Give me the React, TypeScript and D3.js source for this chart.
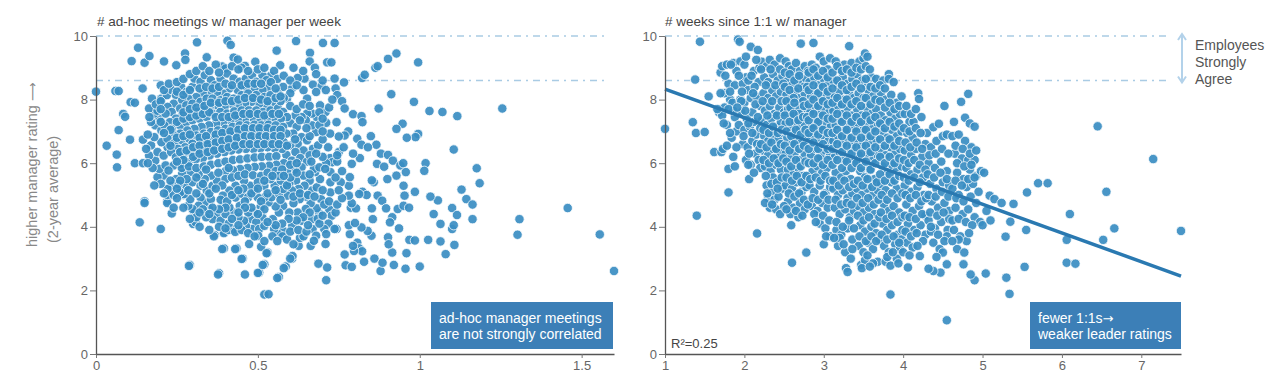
import React, { useEffect, useRef } from "react";
import * as d3 from "d3";

// ---------- data ----------
const adhocTicks = [0, 0.5, 1, 1.5];
const weeksTicks = [1, 2, 3, 4, 5, 6, 7];
const ratingTicks = [0, 2, 4, 6, 8, 10];
const agreeBand = [8.6, 10];
const fitLine: [number, number][] = [[1, 8.33], [7.5, 2.45]];
const rSquared = "R²=0.25";

const adhocOuter: [number, number][] = [
  [0,8.25],[0.033,6.55],[0.06,8.27],[0.07,8.27],[0.064,6.27],[0.065,5.87],[0.07,7.04],[0.084,7.55],[0.09,7.46],[0.13,9.63],[0.11,9.21],[0.15,9.16],[0.165,9.37],[0.135,4.14],[0.15,4.8],[0.2,3.93],[0.21,9.2],[0.144,8.35],[0.107,7.92],[0.12,7.9],[0.105,6.74],[0.145,6.74],[0.12,6.0],[0.145,6.0],[0.2,8.45],[0.22,4.8],[0.234,4.42],[0.29,2.8],[0.38,2.54],[0.395,3.32],[0.367,3.74],[0.397,3.84],[0.425,3.93],[0.434,3.32],[0.453,3.0],[0.46,2.5],[0.473,3.46],[0.504,2.56],[0.52,1.87],[0.533,1.88],[0.52,2.82],[0.53,3.19],[0.565,2.42],[0.586,2.75],[0.606,3.0],[0.607,3.08],[0.626,3.4],[0.663,3.4],[0.687,2.84],[0.714,2.72],[0.711,2.32],[0.709,3.46],[0.743,3.93],[0.771,2.79],[0.79,2.74],[0.828,2.9],[0.86,3.0],[0.879,2.61],[0.885,2.87],[0.92,2.8],[0.956,2.68],[1.0,2.75],[1.08,3.14],[1.107,3.43],[1.026,3.59],[1.064,3.54],[1.1,3.93],[1.105,4.05],[1.064,4.09],[1.043,4.4],[1.056,4.83],[1.033,4.95],[1.1,4.59],[1.115,4.37],[1.129,5.17],[1.144,4.87],[1.163,4.7],[1.163,4.24],[1.176,5.84],[1.185,5.37],[1.105,6.43],[1.018,6.0],[1.014,5.76],[1.03,7.64],[1.07,7.61],[1.116,7.48],[1.255,7.72],[1.308,4.24],[1.302,3.75],[1.457,4.59],[1.556,3.76],[1.6,2.61],[0.995,9.17],[0.928,9.45],[0.902,9.28],[0.863,9.0],[0.87,9.05],[0.912,8.17],[0.873,7.72],[0.982,7.93],[0.995,6.92],[0.987,6.82],[0.947,7.24],[0.928,7.08],[0.96,6.8],[0.822,8.68],[0.83,8.78],[0.766,8.54],[0.737,8.66],[0.714,9.17],[0.727,9.17],[0.701,9.78],[0.737,9.78],[0.661,9.47],[0.618,9.84],[0.558,9.54],[0.569,9.08],[0.539,8.74],[0.492,9.19],[0.406,9.85],[0.416,9.72],[0.312,9.8],[0.275,9.45],[0.276,9.25],[0.248,9.08],[0.342,9.33],[0.425,9.32],[0.438,9.26],[0.46,9.06],[0.45,9.0],[0.39,9.04],[0.4,8.98],[0.66,9.2],[0.676,9.0],[0.67,8.47],[0.697,8.43],[0.74,8.35],[0.745,8.14],[0.76,7.95],[0.794,7.54],[0.82,7.48],[0.823,7.29],[0.779,7.0],[0.768,6.87],[0.75,6.84],[0.807,6.77],[0.82,6.58],[0.849,6.85],[0.866,6.58],[0.84,6.5],[0.88,6.3],[0.868,5.98],[0.89,5.89],[0.902,6.26],[0.917,6.08],[0.94,5.93],[0.949,6.0],[0.957,5.72],[0.95,5.29],[0.928,5.61],[0.9,5.5],[0.858,5.4],[0.852,5.46],[0.823,5.1],[0.836,5.0],[0.87,4.98],[0.884,4.82],[0.896,4.58],[0.932,4.56],[0.915,4.3],[0.908,4.14],[0.936,3.95],[0.902,3.67],[0.968,3.59],[0.985,3.57],[0.985,5.1],[0.953,4.98],[0.95,4.66],[0.967,4.6],[0.915,3.19],[0.959,3.17],[0.904,3.45],[0.852,4.58],[0.855,4.24],[0.851,3.72],[0.839,3.87],[0.82,3.98],[0.807,3.5],[0.813,3.32],[0.822,3.23],[0.797,3.24],[0.794,3.4],[0.784,3.77],[0.781,4.05],[0.8,4.12],[0.768,3.13],[0.787,4.6],[0.803,4.58],[0.79,4.74],[0.781,4.98],[0.813,5.03],[0.781,5.29],[0.784,5.56],[0.756,5.4],[0.79,5.98],[0.815,6.16],[0.794,6.3],[0.75,6.35],[0.723,6.16],[0.73,6.03],[0.745,6.05],[0.717,6.5],[0.723,6.93],[0.743,7.29],[0.709,7.61],[0.768,7.72],[0.711,7.27],[0.692,7.82],[0.68,8.24],[0.652,8.03],[0.641,8.3],[0.644,8.66],[0.623,8.68],[0.605,8.35],[0.59,8.03],[0.578,8.4],[0.562,8.19],
  [0.15,4.75],[0.22,4.75],[0.22,5.0],[0.24,5.0],[0.27,5.0],[0.287,2.77],[0.3,4.09],[0.3,4.5],[0.364,3.7],[0.377,2.5],[0.39,3.3],[0.395,3.8],[0.41,3.9],[0.43,3.84],[0.43,3.3],[0.45,2.99],[0.5,2.55],[0.51,3.37],[0.515,2.8],[0.527,3.17],[0.56,2.39],[0.58,2.7],[0.6,3.0],[0.63,3.65]
];

const adhocCore: [number, number][] = [
  [0.724,5.4],[0.724,5.08],[0.724,5.72],[0.711,6.0],[0.72,4.56],[0.728,4.35],[0.74,4.45],[0.718,4.1],[0.737,3.93],[0.705,3.93],[0.711,3.77],[0.689,4.43],[0.682,4.58],[0.695,4.87],[0.663,4.74],[0.667,5.14],[0.682,5.24],[0.692,5.5],[0.677,5.72],[0.66,5.45],[0.673,5.82],[0.69,5.87],[0.708,5.82],[0.67,6.45],[0.686,6.56],[0.68,6.98],[0.667,7.19],[0.682,7.45],[0.667,7.56],[0.652,7.56],[0.648,7.35],[0.635,7.45],[0.616,7.5],[0.6,7.26],[0.62,7.14],[0.609,6.93],[0.635,6.82],[0.652,6.72],[0.623,6.61],[0.6,6.56],[0.641,6.4],[0.616,6.35],[0.588,6.26],[0.605,6.08],[0.631,6.16],[0.652,6.05],[0.635,5.87],[0.613,5.8],[0.59,5.72],[0.641,5.61],[0.618,5.45],[0.597,5.35],[0.644,5.29],[0.626,5.19],[0.605,5.14],[0.59,4.98],[0.648,4.95],[0.629,4.87],[0.61,4.74],[0.648,4.56],[0.623,4.45],[0.597,4.45],[0.578,4.66],[0.635,4.19],[0.606,4.03],[0.667,4.24],[0.669,3.93],[0.68,3.72],[0.641,3.7],[0.673,3.56],[0.578,3.87],[0.563,3.77],[0.576,3.7],[0.55,3.93],[0.546,4.24],[0.565,4.45],[0.555,4.64],[0.533,4.77],[0.542,4.93],[0.52,4.92],[0.565,5.04],[0.578,5.19],[0.552,5.29],[0.571,5.45],[0.539,5.5],[0.52,5.29],[0.499,4.93],[0.489,5.14],[0.508,4.61],[0.489,4.45],[0.514,4.29],[0.476,4.24],[0.495,4.14],[0.482,3.93],[0.463,4.03],[0.504,3.93],[0.52,4.03],[0.501,3.72],[0.47,4.45],[0.457,4.19],[0.444,4.66],[0.425,4.45],[0.412,4.61],[0.431,4.92],[0.45,5.04],[0.47,4.93],[0.476,5.29],[0.457,5.45],[0.431,5.29],[0.412,5.14],[0.392,4.98],[0.392,4.66],[0.372,4.4],[0.36,4.24],[0.385,4.19],[0.349,4.56],[0.336,4.77],[0.355,4.87],[0.323,4.92],[0.317,4.66],[0.304,4.45],[0.298,4.56],[0.308,4.14],[0.285,4.66],[0.291,4.87],[0.272,5.03],[0.26,5.08],[0.279,5.29],[0.298,5.4],[0.323,5.29],[0.342,5.14],[0.36,5.29],[0.374,5.45],[0.355,5.61],[0.336,5.5],[0.317,5.66],[0.291,5.72],[0.266,5.66],[0.247,5.5],[0.234,5.29],[0.221,5.19],[0.209,5.61],[0.19,5.56],[0.196,5.82],[0.215,5.93],[0.183,6.08],[0.164,6.24],[0.17,6.56],[0.19,6.35],[0.209,6.24],[0.221,6.5],[0.202,6.66],[0.18,6.82],[0.183,7.19],[0.202,7.03],[0.196,7.4],[0.18,7.56],[0.164,7.72],[0.173,8.03],[0.202,8.03],[0.219,8.14],[0.234,8.3],[0.247,8.14],[0.263,8.4],[0.279,8.24],[0.298,8.4],[0.304,8.66],[0.323,8.56],[0.336,8.77],[0.355,8.61],[0.367,8.45],[0.385,8.66],[0.405,8.82],[0.425,8.66],[0.444,8.56],[0.463,8.66],[0.482,8.77],[0.495,8.56],[0.514,8.77],[0.527,8.61],[0.533,8.4],[0.514,8.3],[0.489,8.35],[0.463,8.4],[0.438,8.3],[0.412,8.35],[0.392,8.19],[0.374,8.24],[0.349,8.24],[0.33,8.19],[0.31,8.08],[0.285,8.03],[0.266,7.98],[0.24,7.87],[0.221,7.77],[0.234,7.61],[0.215,7.56],[0.26,7.72],[0.279,7.82],[0.298,7.87],[0.323,7.93],[0.342,8.03],[0.36,8.03],[0.385,7.98],[0.405,8.08],[0.425,8.03],[0.45,8.14],[0.47,8.19],[0.495,8.14],[0.52,8.08],[0.539,8.14],[0.546,7.93],[0.527,7.82],[0.504,7.87],[0.48,7.93],[0.46,7.87],[0.438,7.82],[0.418,7.87],[0.397,7.77],[0.374,7.82],[0.351,7.77],[0.33,7.66],[0.308,7.61],[0.288,7.56],[0.266,7.5],[0.247,7.4],[0.228,7.29],[0.211,7.19],[0.234,7.08],[0.26,7.19],[0.279,7.29],[0.298,7.35],[0.32,7.4],[0.342,7.45],[0.36,7.56],[0.384,7.61],[0.405,7.56],[0.427,7.63],[0.45,7.66],[0.472,7.66],[0.495,7.66],[0.516,7.61],[0.539,7.66],[0.562,7.72],[0.578,7.61],[0.59,7.45],[0.571,7.4],[0.549,7.45],[0.527,7.4],[0.504,7.4],[0.482,7.45],[0.46,7.4],[0.438,7.4],[0.415,7.35],[0.393,7.29],[0.371,7.24],[0.349,7.19],[0.326,7.14],[0.304,7.08],[0.282,7.03],[0.26,6.93],[0.24,6.87],[0.221,6.77],[0.244,6.66],[0.266,6.72],[0.288,6.77],[0.31,6.87],[0.333,6.93],[0.355,6.98],[0.377,7.03],[0.4,7.08],[0.422,7.14],[0.444,7.19],[0.466,7.19],[0.489,7.21],[0.511,7.19],[0.533,7.21],[0.555,7.19],[0.578,7.14],[0.588,6.93],[0.565,6.98],[0.542,6.98],[0.52,6.98],[0.499,6.98],[0.476,6.96],[0.453,6.96],[0.431,6.93],[0.409,6.87],[0.387,6.82],[0.364,6.77],[0.342,6.72],[0.32,6.66],[0.298,6.61],[0.275,6.5],[0.253,6.45],[0.232,6.35],[0.247,6.19],[0.27,6.26],[0.291,6.35],[0.313,6.4],[0.336,6.45],[0.359,6.5],[0.38,6.56],[0.402,6.64],[0.425,6.69],[0.448,6.72],[0.47,6.72],[0.491,6.75],[0.514,6.72],[0.537,6.75],[0.559,6.72],[0.58,6.66],[0.575,6.45],[0.552,6.47],[0.53,6.5],[0.508,6.47],[0.486,6.45],[0.463,6.45],[0.44,6.43],[0.418,6.4],[0.397,6.35],[0.374,6.3],[0.351,6.24],[0.33,6.16],[0.308,6.12],[0.285,6.03],[0.262,5.98],[0.24,5.93],[0.224,5.77],
  [0.265,5.85],[0.287,5.9],[0.31,5.85],[0.333,5.9],[0.355,5.95],[0.378,6.0],[0.4,6.05],[0.423,6.1],[0.445,6.12],[0.468,6.15],[0.49,6.18],[0.512,6.2],[0.535,6.2],[0.557,6.22],[0.58,6.0],[0.557,5.95],[0.535,5.92],[0.512,5.9],[0.49,5.88],[0.468,5.85],[0.445,5.82],[0.423,5.78],[0.4,5.75],[0.378,5.7],[0.4,5.5],[0.42,5.55],[0.44,5.6],[0.46,5.65],[0.485,5.62],[0.51,5.6],[0.53,5.7],[0.555,5.75],[0.575,5.8],[0.5,5.4],[0.52,5.45],[0.455,5.2],[0.39,5.3],[0.41,5.85],
  [0.34,4.3],[0.32,4.0],[0.35,3.9],[0.41,4.1],[0.44,4.3],[0.45,3.9],[0.4,4.4],[0.27,4.6],[0.25,4.9],[0.24,4.6]
];

const adhocFill: [number, number][] = [
  [0.255,5.35],[0.285,5.15],[0.31,5.05],[0.33,5.35],[0.35,5.05],[0.37,5.2],[0.385,4.85],[0.405,4.8],[0.42,5.0],[0.44,5.15],[0.46,4.8],[0.48,5.05],[0.5,5.2],[0.51,4.8],[0.53,5.05],[0.555,5.15],[0.57,4.85],[0.59,5.3],[0.61,4.95],[0.63,5.05],[0.655,5.0],[0.675,4.95],[0.7,5.15],[0.705,4.7],[0.685,4.25],[0.66,4.45],[0.64,4.3],[0.62,4.2],[0.595,4.25],[0.575,4.1],[0.555,4.05],[0.53,4.15],[0.52,4.55],[0.5,4.4],[0.48,4.6],[0.46,4.6],[0.44,4.45],[0.42,4.25],[0.4,4.6],[0.38,4.55],[0.36,4.6],[0.33,4.55],[0.31,4.3],[0.29,4.25],[0.32,4.45],[0.35,4.4],[0.38,4.0],[0.4,3.95],[0.44,4.05],[0.47,3.8],[0.49,3.7],[0.52,3.55],[0.545,3.7],[0.56,3.55],[0.59,3.6],[0.61,3.45],[0.6,3.85],[0.625,3.9],[0.65,3.85],[0.655,4.05],[0.69,4.1],[0.7,4.35],[0.72,4.8],[0.745,4.7],[0.76,4.9],[0.75,5.15],[0.74,5.55],[0.76,5.75],[0.745,6.25],[0.765,6.5],[0.7,6.2],[0.7,6.75],[0.66,6.85],[0.66,6.25],[0.665,6.05],[0.68,6.3],[0.69,7.2],[0.7,7.0],[0.65,7.1],[0.63,7.35],[0.615,6.75],[0.6,5.95],[0.62,6.0],[0.66,5.65],[0.6,5.55],[0.62,5.7],[0.565,5.6],[0.545,5.6],[0.58,5.6],[0.34,5.8],[0.31,5.55],[0.28,5.5],[0.26,5.45],[0.25,5.2],[0.23,5.45],[0.2,5.35],[0.21,5.05],[0.18,5.3],[0.175,5.85],[0.16,6.0],[0.155,6.45],[0.16,6.9],[0.17,7.3],[0.165,7.45],[0.19,7.65],[0.185,7.85],[0.2,7.95],[0.21,8.3],[0.225,8.5],[0.25,8.55],[0.27,8.65],[0.29,8.8],[0.31,8.9],[0.33,9.05],[0.35,8.9],[0.37,9.1],[0.38,8.85],[0.42,9.05],[0.44,8.95],[0.47,8.9],[0.5,8.95],[0.52,9.0],[0.55,8.9],[0.56,8.65],[0.58,8.75],[0.6,8.6],[0.62,8.45],[0.6,8.2],[0.58,8.05],[0.57,7.95],[0.6,7.8],[0.62,7.7],[0.64,7.85],[0.66,7.8],[0.69,7.6],[0.7,7.4],[0.72,7.75],[0.73,8.0],[0.71,8.3],[0.7,8.6],[0.68,8.8],[0.64,8.9],[0.61,9.0],
  [0.23,7.05],[0.25,7.3],[0.27,7.4],[0.29,7.45],[0.31,7.5],[0.33,7.55],[0.35,7.6],[0.37,7.45],[0.39,7.45],[0.41,7.45],[0.43,7.5],[0.455,7.55],[0.475,7.55],[0.5,7.55],[0.52,7.5],[0.545,7.55],[0.565,7.55],[0.25,6.8],[0.27,6.85],[0.29,6.9],[0.32,6.8],[0.34,6.85],[0.37,6.9],[0.39,6.95],[0.415,7.0],[0.44,7.05],[0.46,7.1],[0.485,7.1],[0.505,7.1],[0.53,7.1],[0.55,7.05],[0.57,7.05],[0.26,6.35],[0.28,6.4],[0.3,6.5],[0.32,6.55],[0.345,6.6],[0.37,6.65],[0.39,6.7],[0.41,6.75],[0.435,6.8],[0.46,6.85],[0.48,6.85],[0.505,6.85],[0.525,6.85],[0.55,6.85],[0.57,6.85],[0.27,6.1],[0.3,6.2],[0.32,6.3],[0.345,6.35],[0.365,6.4],[0.39,6.45],[0.41,6.5],[0.43,6.55],[0.455,6.6],[0.475,6.6],[0.5,6.6],[0.52,6.6],[0.545,6.6],[0.565,6.6],[0.59,6.55],[0.27,7.6],[0.29,7.7],[0.31,7.75],[0.335,7.8],[0.355,7.9],[0.38,7.9],[0.4,7.95],[0.42,7.95],[0.44,8.0],[0.46,8.05],[0.485,8.05],[0.51,8.0],[0.53,7.95],[0.555,8.05],[0.57,8.1],[0.25,8.25],[0.27,8.15],[0.29,8.3],[0.32,8.35],[0.34,8.4],[0.36,8.35],[0.38,8.4],[0.4,8.5],[0.42,8.45],[0.45,8.45],[0.47,8.5],[0.49,8.5],[0.51,8.5],[0.54,8.55],[0.555,8.35],[0.25,6.05],[0.23,6.55],[0.21,6.95],[0.2,7.3],[0.2,7.7]
];

const weeksPoints: [number, number][] = [
  [1.0,7.08],[1.35,7.29],[1.39,6.95],[1.5,6.98],[1.38,8.63],[1.44,9.82],[1.4,4.35],[1.55,8.1],
  [1.62,6.35],[1.71,6.35],[1.73,6.45],[1.8,5.82],[1.8,5.08],[1.68,7.6],[1.72,7.5],[1.75,7.75],[1.7,8.85],[1.72,9.05],[1.78,9.1],[1.8,8.5],[1.82,8.0],[1.85,7.9],[1.78,7.2],[1.88,7.45],[1.86,9.15],[1.9,8.9],[1.84,6.8],[1.9,7.0],[1.75,8.2],[1.88,8.45],[1.66,7.7],
  [1.92,9.89],[1.94,9.82],[1.95,9.2],[2.0,9.1],[1.98,8.5],[2.02,8.7],[2.05,8.3],[1.95,8.0],[2.0,7.9],[2.08,8.05],[1.96,7.6],[2.03,7.4],[2.1,7.6],[1.93,7.2],[2.0,7.05],[2.07,7.15],[2.12,7.3],[1.98,6.6],[2.04,6.5],[2.1,6.7],[2.15,6.9],[2.02,6.1],[2.08,5.95],[2.06,5.5],[2.14,6.3],[2.18,6.1],[2.08,9.66],[2.17,9.56],[2.12,8.9],[2.18,8.55],[2.15,8.1],[2.2,7.8],[2.2,7.1],[2.16,6.6],[2.2,5.85],[2.16,3.79],[2.13,8.4],[2.05,8.6],[2.19,9.0],
  [2.22,9.19],[2.28,9.05],[2.32,9.25],[2.38,9.1],[2.45,9.3],[2.25,8.7],[2.3,8.55],[2.36,8.8],[2.42,8.6],[2.48,8.75],[2.24,8.2],[2.3,8.05],[2.35,8.3],[2.4,8.1],[2.46,8.25],[2.26,7.65],[2.32,7.8],[2.38,7.55],[2.44,7.75],[2.5,7.6],[2.22,7.35],[2.28,7.2],[2.34,7.4],[2.4,7.15],[2.46,7.3],[2.25,6.85],[2.3,6.7],[2.37,6.9],[2.43,6.75],[2.49,6.95],[2.23,6.4],[2.3,6.25],[2.36,6.45],[2.42,6.2],[2.48,6.4],[2.26,5.9],[2.33,5.75],[2.4,5.95],[2.46,5.8],[2.28,5.3],[2.35,5.1],[2.3,4.9],[2.38,4.85],[2.32,4.6],[2.4,4.55],[2.45,4.4],[2.48,5.2],[2.44,5.45],[2.36,5.55],
  [2.52,9.2],[2.56,9.05],[2.6,8.95],[2.65,9.15],[2.7,8.9],[2.71,9.76],[2.76,9.05],[2.55,8.6],[2.6,8.45],[2.66,8.7],[2.72,8.5],[2.78,8.65],[2.53,8.15],[2.58,8.0],[2.64,8.25],[2.7,8.05],[2.76,8.2],[2.55,7.7],[2.6,7.5],[2.67,7.75],[2.73,7.55],[2.79,7.7],[2.52,7.25],[2.58,7.05],[2.64,7.3],[2.7,7.1],[2.76,7.25],[2.54,6.8],[2.6,6.6],[2.66,6.85],[2.72,6.65],[2.78,6.8],[2.52,6.3],[2.58,6.15],[2.64,6.35],[2.7,6.1],[2.76,6.3],[2.55,5.8],[2.62,5.65],[2.68,5.85],[2.74,5.6],[2.52,5.3],[2.6,5.2],[2.66,5.4],[2.72,5.1],[2.78,5.25],[2.55,4.8],[2.62,4.6],[2.7,4.75],[2.76,4.55],[2.59,4.05],[2.6,2.87],[2.78,3.19],[2.58,4.4],[2.68,4.3],
  [2.87,9.78],[2.85,9.1],[2.9,9.0],[2.95,9.35],[3.0,9.2],[3.05,8.95],[3.08,9.3],[2.82,8.55],[2.88,8.7],[2.94,8.45],[3.0,8.65],[3.06,8.5],[2.84,8.1],[2.9,8.25],[2.96,8.0],[3.02,8.2],[3.08,8.05],[2.83,7.6],[2.89,7.8],[2.95,7.55],[3.01,7.75],[3.07,7.6],[2.85,7.15],[2.91,7.35],[2.97,7.1],[3.03,7.3],[3.09,7.15],[2.82,6.7],[2.88,6.9],[2.94,6.65],[3.0,6.85],[3.06,6.7],[2.84,6.25],[2.9,6.45],[2.96,6.2],[3.02,6.4],[3.08,6.25],[2.86,5.75],[2.92,5.9],[2.98,5.7],[3.04,5.85],[2.82,5.3],[2.88,5.1],[2.95,5.3],[3.02,5.05],[3.08,5.25],[2.85,4.65],[2.92,4.5],[2.98,4.75],[3.05,4.6],[2.95,4.1],[3.02,3.95],[3.0,3.45],[3.08,3.7],
  [3.32,9.68],[3.15,9.2],[3.2,8.95],[3.26,9.1],[3.35,9.15],[3.12,8.6],[3.18,8.45],[3.24,8.7],[3.3,8.5],[3.36,8.65],[3.14,8.1],[3.2,8.25],[3.26,8.0],[3.32,8.2],[3.38,8.05],[3.12,7.65],[3.18,7.8],[3.24,7.55],[3.3,7.75],[3.36,7.5],[3.15,7.2],[3.21,7.35],[3.27,7.05],[3.33,7.25],[3.39,7.1],[3.12,6.7],[3.18,6.85],[3.24,6.6],[3.3,6.8],[3.36,6.55],[3.14,6.2],[3.2,6.35],[3.26,6.1],[3.32,6.3],[3.38,6.05],[3.15,5.7],[3.22,5.55],[3.28,5.75],[3.34,5.5],[3.12,5.2],[3.18,5.0],[3.24,5.15],[3.3,4.9],[3.36,5.05],[3.14,4.6],[3.2,4.4],[3.27,4.55],[3.33,4.3],[3.38,4.5],[3.16,3.9],[3.22,3.75],[3.3,3.95],[3.36,3.6],[3.18,3.4],[3.27,3.2],[3.34,3.0],[3.28,2.7],[3.3,2.58],[3.2,3.65],
  [3.45,9.2],[3.5,9.3],[3.52,9.45],[3.55,9.35],[3.42,8.8],[3.48,8.6],[3.54,8.4],[3.6,8.7],[3.66,8.65],[3.44,8.2],[3.5,8.05],[3.56,8.3],[3.62,8.1],[3.42,7.7],[3.48,7.5],[3.54,7.75],[3.6,7.55],[3.66,7.7],[3.44,7.25],[3.5,7.05],[3.56,7.3],[3.62,7.1],[3.68,7.25],[3.42,6.75],[3.48,6.55],[3.54,6.8],[3.6,6.6],[3.66,6.75],[3.44,6.25],[3.5,6.05],[3.56,6.3],[3.62,6.1],[3.68,6.25],[3.46,5.75],[3.52,5.55],[3.58,5.8],[3.64,5.5],[3.42,5.2],[3.48,5.0],[3.55,5.2],[3.62,5.0],[3.68,5.15],[3.44,4.65],[3.5,4.45],[3.57,4.6],[3.64,4.4],[3.46,4.05],[3.52,3.85],[3.6,4.0],[3.66,3.8],[3.44,3.4],[3.5,3.2],[3.56,3.5],[3.62,3.3],[3.47,2.8],[3.52,2.95],[3.68,2.9],[3.7,3.6],[3.48,2.7],
  [3.75,8.6],[3.82,8.8],[3.82,8.65],[3.72,8.2],[3.78,8.0],[3.85,8.15],[3.92,7.9],[3.98,8.1],[3.72,7.5],[3.78,7.35],[3.84,7.6],[3.9,7.4],[3.96,7.55],[3.74,7.0],[3.8,6.8],[3.86,7.05],[3.92,6.85],[3.98,7.0],[3.72,6.45],[3.78,6.25],[3.84,6.5],[3.9,6.3],[3.96,6.45],[3.74,5.9],[3.8,5.7],[3.86,5.95],[3.92,5.75],[3.98,5.9],[3.72,5.35],[3.78,5.15],[3.85,5.4],[3.92,5.2],[3.76,4.7],[3.82,4.5],[3.88,4.65],[3.95,4.45],[3.74,4.1],[3.8,3.9],[3.86,4.05],[3.93,3.75],[3.99,3.9],[3.76,3.4],[3.82,3.2],[3.9,3.45],[3.96,3.3],[3.78,2.9],[3.84,2.78],[3.92,3.0],[3.84,1.87],[3.98,3.6],
  [4.02,7.55],[4.08,7.3],[4.05,6.95],[4.12,6.8],[4.19,8.2],[4.2,8.02],[4.13,7.3],[4.23,7.45],[4.02,6.4],[4.1,6.25],[4.16,6.45],[4.24,6.2],[4.04,5.85],[4.1,5.65],[4.18,5.8],[4.25,5.55],[4.02,5.3],[4.1,5.1],[4.18,5.25],[4.26,5.0],[4.04,4.7],[4.12,4.5],[4.2,4.65],[4.28,4.35],[4.06,4.1],[4.14,3.9],[4.22,4.05],[4.28,3.75],[4.05,3.5],[4.12,3.35],[4.06,2.72],[4.21,3.08],[4.0,3.2],[4.3,6.95],[4.28,6.6],
  [4.38,7.13],[4.45,7.24],[4.52,7.8],[4.35,6.5],[4.42,6.7],[4.5,6.85],[4.55,6.9],[4.32,6.0],[4.4,5.85],[4.48,6.05],[4.55,5.75],[4.34,5.35],[4.42,5.2],[4.5,5.4],[4.58,5.3],[4.36,4.8],[4.44,4.6],[4.52,4.75],[4.58,4.5],[4.32,4.2],[4.4,3.95],[4.48,4.15],[4.56,3.9],[4.38,3.5],[4.46,3.3],[4.55,3.7],[4.47,2.56],[4.38,2.61],[4.32,2.68],[4.55,2.82],[4.5,3.19],[4.55,1.06],[4.58,4.25],
  [4.64,7.3],[4.73,7.93],[4.82,8.18],[4.78,7.43],[4.84,7.25],[4.9,7.15],[4.62,6.85],[4.7,6.9],[4.78,6.7],[4.86,6.5],[4.65,6.3],[4.74,6.15],[4.82,6.1],[4.9,6.1],[4.68,5.7],[4.76,5.5],[4.84,5.8],[4.92,5.6],[4.98,5.75],[4.62,5.2],[4.7,5.0],[4.8,5.25],[4.88,5.35],[4.95,5.1],[4.66,4.6],[4.75,4.4],[4.82,4.55],[4.9,4.3],[4.97,4.15],[4.64,3.9],[4.72,3.7],[4.8,3.55],[4.68,3.3],[4.77,3.19],[4.76,2.82],[4.9,2.32],[4.85,2.5],[5.0,4.05],[4.62,4.2],
  [5.02,5.7],[5.09,4.98],[5.15,4.87],[5.24,4.75],[5.39,4.72],[5.56,5.08],[5.7,5.37],[5.82,5.37],[5.29,3.69],[5.35,4.16],[5.55,3.9],[5.53,2.74],[5.3,2.4],[5.34,1.89],[5.04,2.53],[6.1,4.4],[6.06,3.59],[6.06,2.87],[6.17,2.84],[6.45,7.16],[6.56,5.1],[6.52,3.59],[6.66,3.95],[7.15,6.13],[7.5,3.87],[5.05,4.5],[5.1,4.2]
];

const weeksFill: [number, number][] = [
  [1.7,8.2],[1.76,8.75],[1.82,8.25],[1.86,7.65],[1.8,7.7],[1.74,7.25],[1.82,6.95],[1.78,6.55],[1.86,6.2],[1.9,6.5],[1.88,5.9],[1.83,9.1],
  [1.93,8.75],[1.97,8.25],[2.01,7.65],[2.05,7.25],[1.99,6.85],[2.06,6.3],[2.11,8.2],[2.14,7.85],[2.17,7.45],[2.1,6.95],[2.19,6.45],[2.12,5.7],[1.96,7.95],[2.02,9.35],[2.09,8.75],[2.15,9.25],[1.91,7.75],[2.05,5.95],
  [2.21,8.95],[2.27,8.45],[2.33,8.95],[2.39,8.45],[2.45,8.95],[2.49,8.5],[2.23,7.95],[2.29,7.5],[2.35,7.95],[2.41,7.5],[2.47,7.95],[2.24,7.05],[2.31,6.95],[2.36,7.15],[2.42,6.95],[2.47,7.05],[2.21,6.6],[2.28,6.5],[2.34,6.65],[2.4,6.45],[2.46,6.6],[2.24,6.1],[2.31,6.0],[2.37,6.15],[2.43,6.0],[2.49,6.15],[2.27,5.6],[2.34,5.35],[2.41,5.4],[2.47,5.55],[2.26,4.75],[2.35,4.7],[2.43,4.95],[2.29,5.05],[2.42,5.2],[2.5,4.65],
  [2.51,8.85],[2.57,8.8],[2.63,8.6],[2.69,8.75],[2.75,8.4],[2.8,8.9],[2.51,8.4],[2.57,8.3],[2.62,8.05],[2.68,8.35],[2.74,7.95],[2.79,8.4],[2.53,7.95],[2.58,7.75],[2.63,7.9],[2.69,7.55],[2.75,7.8],[2.51,7.5],[2.57,7.3],[2.62,7.55],[2.68,7.35],[2.74,7.45],[2.79,7.45],[2.53,7.0],[2.59,6.85],[2.65,7.05],[2.71,6.9],[2.77,7.05],[2.51,6.55],[2.57,6.4],[2.63,6.6],[2.69,6.45],[2.75,6.55],[2.53,6.05],[2.59,5.9],[2.65,6.1],[2.71,5.9],[2.77,6.05],[2.53,5.55],[2.6,5.45],[2.66,5.6],[2.72,5.4],[2.78,5.6],[2.56,5.05],[2.63,4.95],[2.69,5.05],[2.75,4.85],[2.53,4.55],[2.65,4.5],[2.73,4.35],[2.8,4.7],
  [2.81,8.85],[2.87,8.95],[2.93,8.75],[2.99,8.9],[3.05,8.7],[2.81,8.3],[2.87,8.45],[2.93,8.2],[2.99,8.4],[3.05,8.25],[2.81,7.85],[2.87,8.0],[2.93,7.8],[2.99,7.95],[3.05,7.85],[2.81,7.35],[2.87,7.55],[2.93,7.3],[2.99,7.5],[3.05,7.4],[2.81,6.95],[2.87,7.1],[2.93,6.9],[2.99,7.05],[3.05,6.95],[2.81,6.45],[2.87,6.65],[2.93,6.45],[2.99,6.6],[3.05,6.45],[2.81,6.0],[2.87,6.0],[2.93,6.15],[2.99,5.95],[3.05,6.1],[2.83,5.5],[2.9,5.55],[2.96,5.45],[3.02,5.6],[3.08,5.45],[2.86,4.9],[2.93,4.85],[3.0,5.0],[3.06,4.85],[2.88,4.4],[2.99,4.35],[3.07,4.2],[2.9,4.15],[3.03,3.7],
  [3.11,8.85],[3.17,9.05],[3.23,8.9],[3.29,8.95],[3.35,8.85],[3.11,8.35],[3.17,8.6],[3.23,8.45],[3.29,8.3],[3.35,8.4],[3.11,7.9],[3.17,8.05],[3.23,7.85],[3.29,8.0],[3.35,7.85],[3.11,7.4],[3.17,7.55],[3.23,7.3],[3.29,7.5],[3.35,7.3],[3.11,6.95],[3.17,7.05],[3.23,6.85],[3.29,7.05],[3.35,6.8],[3.11,6.45],[3.17,6.6],[3.23,6.35],[3.29,6.55],[3.35,6.3],[3.11,5.95],[3.17,6.1],[3.23,5.85],[3.29,6.05],[3.35,5.85],[3.12,5.45],[3.19,5.3],[3.26,5.45],[3.32,5.25],[3.38,5.35],[3.15,4.85],[3.22,4.7],[3.29,4.75],[3.35,4.7],[3.16,4.15],[3.24,4.0],[3.32,4.2],[3.38,3.95],[3.13,3.65],[3.25,3.45],[3.36,3.3],
  [3.41,9.0],[3.47,8.95],[3.53,9.05],[3.58,8.95],[3.41,8.5],[3.47,8.35],[3.53,8.65],[3.59,8.4],[3.65,8.35],[3.41,7.95],[3.47,7.8],[3.53,8.05],[3.59,7.85],[3.65,8.0],[3.41,7.45],[3.47,7.3],[3.53,7.5],[3.59,7.35],[3.65,7.45],[3.41,7.0],[3.47,6.8],[3.53,7.05],[3.59,6.85],[3.65,7.0],[3.41,6.5],[3.47,6.3],[3.53,6.55],[3.59,6.35],[3.65,6.5],[3.41,6.0],[3.47,5.85],[3.53,6.05],[3.59,5.8],[3.65,6.0],[3.43,5.45],[3.49,5.3],[3.55,5.5],[3.61,5.25],[3.67,5.4],[3.42,4.9],[3.49,4.75],[3.56,4.9],[3.63,4.7],[3.69,4.85],[3.43,4.35],[3.5,4.2],[3.57,4.3],[3.64,4.1],[3.7,4.3],[3.45,3.7],[3.53,3.55],[3.6,3.7],[3.66,3.55],[3.55,3.1],[3.62,2.85],[3.58,2.75],
  [3.71,8.45],[3.77,8.35],[3.88,8.55],[3.71,7.95],[3.77,7.75],[3.83,7.9],[3.89,7.7],[3.95,7.8],[3.71,7.25],[3.77,7.1],[3.83,7.3],[3.89,7.15],[3.95,7.25],[3.71,6.75],[3.77,6.55],[3.83,6.75],[3.89,6.55],[3.95,6.7],[3.71,6.2],[3.77,6.0],[3.83,6.2],[3.89,6.0],[3.95,6.15],[3.71,5.65],[3.77,5.45],[3.83,5.65],[3.89,5.45],[3.95,5.6],[3.73,5.0],[3.8,4.85],[3.86,5.05],[3.93,4.9],[3.99,5.05],[3.72,4.45],[3.79,4.25],[3.86,4.35],[3.93,4.15],[3.99,4.3],[3.73,3.75],[3.8,3.6],[3.88,3.7],[3.95,3.5],[3.8,3.05],[3.87,3.2],[3.94,2.85],
  [4.04,7.8],[4.1,7.55],[4.16,7.7],[4.01,7.1],[4.08,7.0],[4.16,7.1],[4.22,6.95],[4.03,6.65],[4.09,6.5],[4.17,6.65],[4.24,6.45],[4.01,6.1],[4.07,6.0],[4.14,6.1],[4.21,5.95],[4.28,5.8],[4.01,5.55],[4.07,5.45],[4.14,5.55],[4.21,5.4],[4.03,5.0],[4.09,4.9],[4.16,5.0],[4.23,4.8],[4.29,4.9],[4.02,4.35],[4.08,4.3],[4.16,4.25],[4.24,4.4],[4.03,3.85],[4.1,3.7],[4.17,3.8],[4.25,3.55],[4.08,3.1],[4.18,3.4],
  [4.33,6.25],[4.41,6.3],[4.49,6.45],[4.57,6.3],[4.31,5.65],[4.39,5.55],[4.47,5.7],[4.55,5.5],[4.32,5.0],[4.41,4.95],[4.49,5.1],[4.57,4.95],[4.34,4.45],[4.43,4.35],[4.51,4.45],[4.35,3.85],[4.44,3.75],[4.52,3.55],[4.42,3.05],[4.35,4.0],
  [4.66,6.55],[4.75,6.45],[4.84,6.3],[4.92,6.4],[4.68,6.0],[4.77,5.9],[4.86,5.95],[4.66,5.45],[4.74,5.3],[4.82,5.5],[4.9,5.55],[4.67,4.9],[4.76,4.8],[4.85,4.95],[4.92,4.75],[4.7,4.25],[4.79,4.15],[4.87,4.05],[4.7,3.6],[4.62,3.55],[4.83,3.8]
];

// ---------- chart ----------
const FONT = "'Liberation Sans', Arial, Helvetica, sans-serif";
const ARROW_FONT = "'DejaVu Sans', sans-serif";
const DOT = "#3a8dc2";
const BOX = "#3c7fb7";
const BAND = "#a9cbe4";

export default function App() {
  const y = d3.scaleLinear().domain([0, 10]).range([354, 36]);
  const xL = d3.scaleLinear().domain([0, 1.6]).range([96, 614]);
  const xR = d3.scaleLinear().domain([1, 7.5]).range([665, 1181]);

  const axL = useRef<SVGGElement>(null);
  const ayL = useRef<SVGGElement>(null);
  const axR = useRef<SVGGElement>(null);
  const ayR = useRef<SVGGElement>(null);

  useEffect(() => {
    const style = (sel: any) => {
      sel.select(".domain").attr("stroke", "#555").attr("stroke-width", 1.3);
      sel.selectAll(".tick line").attr("stroke", "#777");
      sel.selectAll(".tick text").attr("fill", "#666").attr("font-size", 13).attr("font-family", FONT);
    };
    const fmt = (d: any) => String(d);
    d3.select(axL.current!).call(d3.axisBottom(xL).tickValues(adhocTicks).tickFormat(fmt).tickSize(4).tickSizeOuter(0).tickPadding(3) as any).call(style);
    d3.select(axR.current!).call(d3.axisBottom(xR).tickValues(weeksTicks).tickFormat(fmt).tickSize(4).tickSizeOuter(0).tickPadding(3) as any).call(style);
    d3.select(ayL.current!).call(d3.axisLeft(y).tickValues(ratingTicks).tickFormat(fmt).tickSize(6).tickSizeOuter(0).tickPadding(2) as any).call(style);
    d3.select(ayR.current!).call(d3.axisLeft(y).tickValues(ratingTicks).tickFormat(fmt).tickSize(6).tickSizeOuter(0).tickPadding(2) as any).call(style);
  }, []);

  const line = d3.line<[number, number]>().x((d) => xR(d[0])).y((d) => y(d[1]));
  const dots = (pts: [number, number][], x: any, key: string) =>
    pts.map((p, i) => (
      <circle key={key + i} cx={x(p[0])} cy={y(p[1])} r={4.7} fill={DOT} fillOpacity={0.92} stroke="#fff" strokeOpacity={0.85} strokeWidth={0.9} />
    ));

  const bandLines = (x0: number, x1: number, k: string) =>
    agreeBand.map((v) => (
      <line key={k + v} x1={x0} x2={x1} y1={y(v)} y2={y(v)} stroke={BAND} strokeWidth={1.5} strokeDasharray="7,5,2,5" />
    ));

  const arrowX = 1182;
  const a0 = y(agreeBand[1]) - 2;
  const a1 = y(agreeBand[0]) + 2;

  return (
    <svg width={1280} height={386} style={{ position: "absolute", left: 0, top: 0, background: "#fff" }} fontFamily={FONT}>
      {/* y axis title */}
      <g transform="translate(37,247) rotate(-90)">
        <text textAnchor="start" fontSize={14.5} fill="#888">
          higher manager rating <tspan fontFamily={ARROW_FONT} fontSize={13}>⟶</tspan>
        </text>
      </g>
      <g transform="translate(58,243) rotate(-90)">
        <text textAnchor="start" fontSize={14.5} fill="#888">(2-year average)</text>
      </g>

      {/* panel titles */}
      <text x={97} y={26} fontSize={13.5} fill="#444">
        # ad-hoc meetings w/ manager per week
      </text>
      <text x={665} y={26} fontSize={13.5} fill="#444">
        # weeks since 1:1 w/ manager
      </text>

      {bandLines(96, 604, "l")}
      {bandLines(665, 1168, "r")}

      {/* points */}
      <g>{dots(adhocOuter, xL, "ao")}{dots(adhocCore, xL, "ac")}{dots(adhocFill, xL, "af")}</g>
      <g>{dots(weeksPoints, xR, "w")}{dots(weeksFill, xR, "wf")}</g>

      {/* regression line */}
      <path d={line(fitLine) || ""} fill="none" stroke="#2a79b1" strokeWidth={3.5} />

      {/* axes */}
      <g ref={axL} transform="translate(0,354)" />
      <g ref={ayL} transform="translate(96,0)" />
      <g ref={axR} transform="translate(0,354)" />
      <g ref={ayR} transform="translate(665,0)" />

      {/* annotation boxes */}
      <rect x={431} y={302} width={182} height={47} fill={BOX} />
      <text x={439} y={323} fontSize={14} fill="#fff">ad-hoc manager meetings</text>
      <text x={439} y={339} fontSize={14} fill="#fff">are not strongly correlated</text>

      <rect x={1030} y={302} width={151} height={47} fill={BOX} />
      <text x={1038} y={323} fontSize={14} fill="#fff">
        fewer 1:1s<tspan fontFamily={ARROW_FONT} fontSize={13}>→</tspan>
      </text>
      <text x={1038} y={339} fontSize={14} fill="#fff">weaker leader ratings</text>

      <text x={671} y={348} fontSize={13} fill="#444">{rSquared}</text>

      {/* strongly agree marker */}
      <g stroke="#b3d2ea" strokeWidth={2} fill="none">
        <line x1={arrowX} x2={arrowX} y1={a0} y2={a1} />
        <path d={`M${arrowX - 4},${a0 + 6} L${arrowX},${a0} L${arrowX + 4},${a0 + 6}`} />
        <path d={`M${arrowX - 4},${a1 - 6} L${arrowX},${a1} L${arrowX + 4},${a1 - 6}`} />
      </g>
      <text x={1195} y={50} fontSize={14} fill="#555">Employees</text>
      <text x={1195} y={67} fontSize={14} fill="#555">Strongly</text>
      <text x={1195} y={84} fontSize={14} fill="#555">Agree</text>
    </svg>
  );
}
